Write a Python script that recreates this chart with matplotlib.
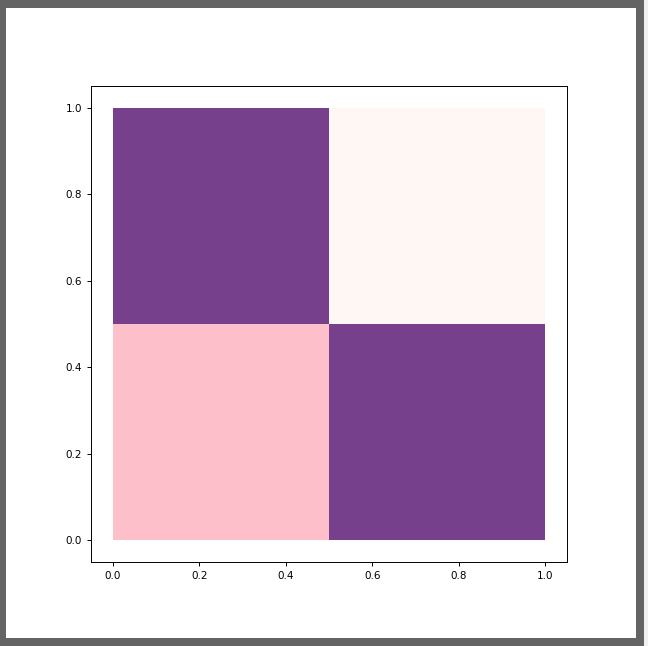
import matplotlib
matplotlib.use("Agg")
import matplotlib.pyplot as plt
import numpy as np
from matplotlib.colors import ListedColormap
from matplotlib.patches import Rectangle

# cell edges and cell classes (rows from bottom to top)
x_edges = [0.0, 0.5, 1.0]
y_edges = [0.0, 0.5, 1.0]
cells = np.array([[1, 2],
                  [2, 0]])
cell_colors = ["#fff7f3", "#fdc0cb", "#77408c"]
ticks = [0.0, 0.2, 0.4, 0.6, 0.8, 1.0]

fig = plt.figure(figsize=(6.48, 6.46), dpi=100)
fig.patch.set_facecolor("#f0f0f0")

# screenshot-style frame
fig.patches.append(Rectangle((0, 0), 644 / 648, 1, transform=fig.transFigure,
                             facecolor="#646464", edgecolor="none", zorder=-2))
fig.patches.append(Rectangle((6 / 648, 8 / 646), 630 / 648, 630 / 646,
                             transform=fig.transFigure, facecolor="white",
                             edgecolor="none", zorder=-1))

ax = fig.add_axes([91 / 648, 1 - 562 / 646, 476 / 648, 476 / 646])
ax.pcolormesh(x_edges, y_edges, cells, cmap=ListedColormap(cell_colors),
              vmin=-0.5, vmax=2.5)
ax.set_xlim(-0.05, 1.05)
ax.set_ylim(-0.05, 1.05)
ax.set_xticks(ticks)
ax.set_yticks(ticks)
ax.tick_params(labelsize=7.5, length=3, width=0.7)
for s in ax.spines.values():
    s.set_linewidth(0.7)

fig.savefig("out.png", dpi=100)
